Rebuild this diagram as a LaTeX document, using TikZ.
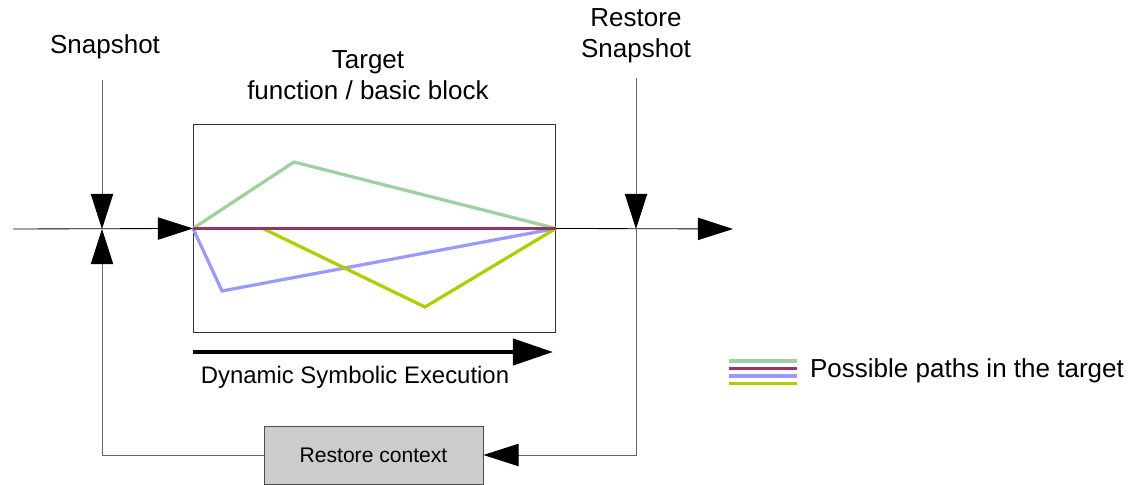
\documentclass[tikz,border=0pt]{standalone}
\usepackage{fontspec}
\setmainfont{Liberation Sans}
\usetikzlibrary{arrows.meta,positioning}

\definecolor{pgreen}{HTML}{9DD19D}
\definecolor{ppurple}{HTML}{993366}
\definecolor{pblue}{HTML}{9999FF}
\definecolor{pyellow}{HTML}{B2CC00}

\begin{document}
\begin{tikzpicture}[x=0.025cm,y=-0.025cm, line width=0.6pt,
    every node/.style={font=\fontsize{18.5}{22}\selectfont}]

    \tikzstyle{bigarrow}=[-{Triangle[length=8.8mm,width=5.6mm,black]}]
    \tikzstyle{gline}=[draw=black!60]
    \tikzstyle{pathline}=[line width=2.3pt]

    \useasboundingbox (0,0) rectangle (1132,485);

    % target box and the main flow
    \node[draw=black!80, minimum width=9.05cm, minimum height=5.2cm, anchor=north west] (box) at (193,124) {};
    \node[align=center] (target) at (368,75) {Target\\function / basic block};

    \coordinate (in) at (13,229);
    \coordinate (snapx) at (102,229);
    \coordinate (rsx) at (636,229);
    \coordinate (out) at (733,229);
    \coordinate (snaptop) at (102,80);
    \coordinate (rstop) at (636,78);

    \node (snap) at (105,47) {Snapshot};
    \node[align=center] (rsnap) at (636,36) {Restore\\Snapshot};

    \draw[bigarrow] (in) -- (box.west);
    \draw[bigarrow] (box.east) -- (out);
    \draw[gline, bigarrow] (snaptop) -- (snapx);
    \draw[gline, bigarrow] (rstop) -- (rsx);

    % restore loop
    \node[draw=black!70, fill=black!20, minimum width=5.475cm, minimum height=1.45cm,
        font=\fontsize{15}{18}\selectfont] (restore) at (373.5,455) {Restore context};
    \draw[gline, bigarrow] (restore.west) -| (snapx);
    \draw[gline, bigarrow] (rsx) |- (restore.east);

    % possible paths
    \draw[pgreen, pathline] (box.west) -- (294,162) -- (box.east);
    \draw[pblue, pathline] (box.west) -- (222,291) -- (box.east);
    \draw[pyellow, pathline] (264,229) -- (425,307) -- (box.east);
    \draw[ppurple, pathline] (box.west) -- (box.east);

    % dynamic symbolic execution
    \coordinate (dsea) at (193,352);
    \coordinate (dseb) at (553,352);
    \draw[line width=2.8pt, -{Triangle[length=1cm,width=6.5mm]}] (dsea) -- (dseb);
    \node[font=\fontsize{17}{20}\selectfont] (dse) at (355,377) {Dynamic Symbolic Execution};

    % legend
    \foreach \c [count=\i] in {pgreen, ppurple, pblue, pyellow} {
        \draw[\c, pathline] (729,353.5+7.5*\i) -- ++(68,0);
    }
    \node[anchor=west] (legend) at (805,371) {Possible paths in the target};

\end{tikzpicture}
\end{document}
